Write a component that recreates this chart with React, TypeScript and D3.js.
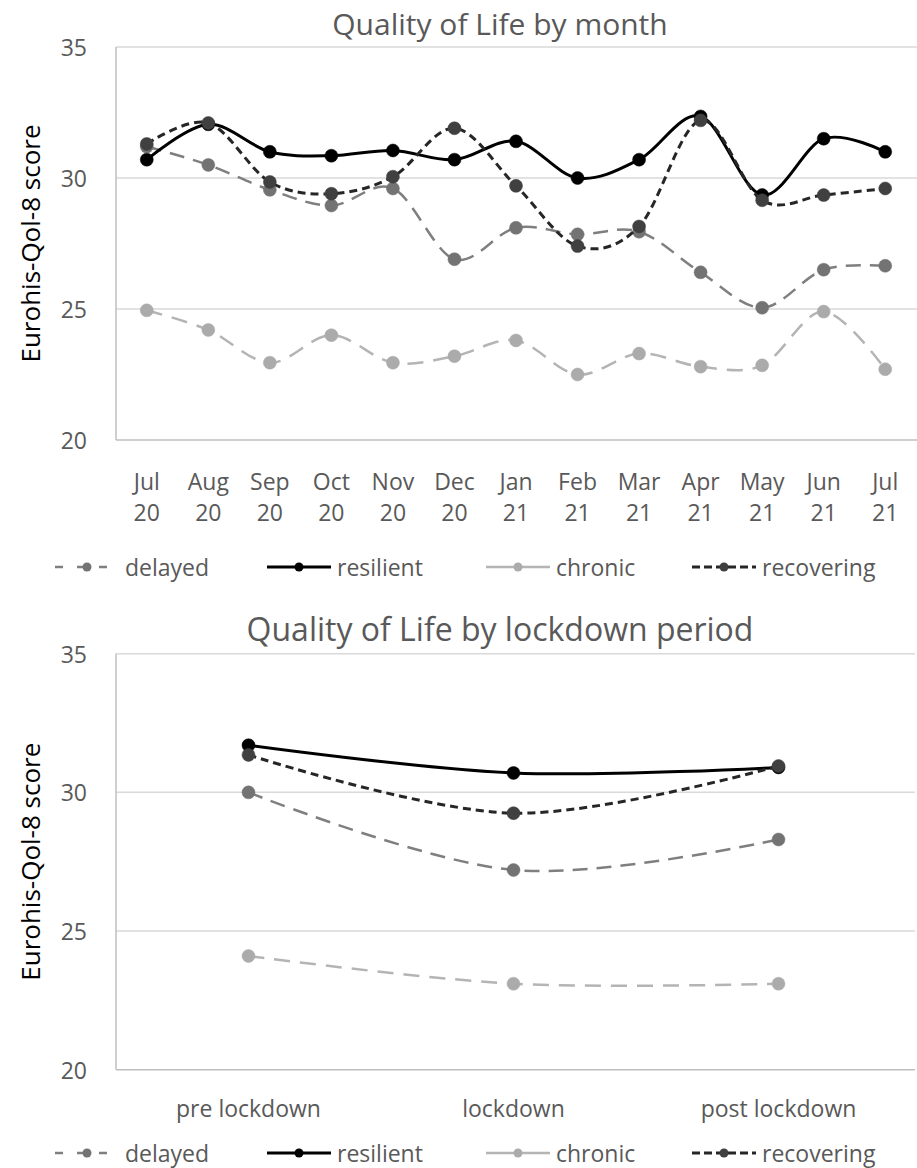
import React from "react";
import * as d3 from "d3";

// ---------- data ----------
const monthLabels = ["Jul 20", "Aug 20", "Sep 20", "Oct 20", "Nov 20", "Dec 20", "Jan 21", "Feb 21", "Mar 21", "Apr 21", "May 21", "Jun 21", "Jul 21"];
const delayedMonthly = [31.2, 30.5, 29.55, 28.95, 29.6, 26.9, 28.1, 27.85, 27.95, 26.4, 25.05, 26.5, 26.65];
const resilientMonthly = [30.7, 32.05, 31.0, 30.85, 31.05, 30.7, 31.4, 30.0, 30.7, 32.35, 29.35, 31.5, 31.0];
const chronicMonthly = [24.95, 24.2, 22.95, 24.0, 22.95, 23.2, 23.8, 22.5, 23.3, 22.8, 22.85, 24.9, 22.7];
const recoveringMonthly = [31.3, 32.1, 29.85, 29.4, 30.05, 31.9, 29.7, 27.4, 28.15, 32.2, 29.15, 29.35, 29.6];

const periodLabels = ["pre lockdown", "lockdown", "post lockdown"];
const delayedPeriod = [30.0, 27.2, 28.3];
const resilientPeriod = [31.7, 30.7, 30.9];
const chronicPeriod = [24.1, 23.1, 23.1];
const recoveringPeriod = [31.35, 29.25, 30.95];

const yTicks = [20, 25, 30, 35];
const seriesNames = ["delayed", "resilient", "chronic", "recovering"];

// ---------- styles ----------
const FONT = "'Open Sans', sans-serif";
const TEXT = "#595959";
const styles: Record<string, { stroke: string; marker: string; width: number; dash: string | null }> = {
  delayed: { stroke: "#7f7f7f", marker: "#737373", width: 2.5, dash: "15 9" },
  resilient: { stroke: "#000000", marker: "#000000", width: 3, dash: null },
  chronic: { stroke: "#b4b4b4", marker: "#ababab", width: 2.5, dash: "16 10" },
  recovering: { stroke: "#262626", marker: "#404040", width: 3, dash: "8 5" },
};

type ChartProps = {
  title: string;
  titleY: number;
  titleSize: number;
  cats: string[];
  series: number[][];
  x0: number;
  x1: number;
  yTop: number;
  yBottom: number;
  tickFirstY: number;
  legendY: number;
  twoLine: boolean;
};

function Chart(p: ChartProps) {
  const x = d3.scaleBand<string>().domain(p.cats).range([p.x0, p.x1]);
  const y = d3.scaleLinear().domain([20, 35]).range([p.yBottom, p.yTop]);
  const cx = (c: string) => (x(c) as number) + x.bandwidth() / 2;
  const line = d3
    .line<number>()
    .x((_, i) => cx(p.cats[i]))
    .y((v) => y(v))
    .curve(d3.curveCatmullRom.alpha(0));

  const legendStarts = [55, 267, 486, 692];
  const symW = 64;

  return (
    <g>
      <text x={500} y={p.titleY} textAnchor="middle" fontFamily={FONT} fontSize={p.titleSize} fill={TEXT}>
        {p.title}
      </text>
      {yTicks.map((t) => (
        <g key={t}>
          {t !== 20 && (
            <line x1={p.x0} x2={p.x1 + 4} y1={y(t)} y2={y(t)} stroke="#d9d9d9" strokeWidth={1.5} />
          )}
          <text x={87} y={y(t)} textAnchor="end" dominantBaseline="central" fontFamily={FONT} fontSize={23} fill={TEXT}>
            {t}
          </text>
        </g>
      ))}
      <line x1={p.x0} x2={p.x0} y1={p.yTop} y2={p.yBottom} stroke="#bfbfbf" strokeWidth={1.5} />
      <line x1={p.x0} x2={p.x1 + 4} y1={p.yBottom} y2={p.yBottom} stroke="#bfbfbf" strokeWidth={1.5} />
      <text
        transform={`translate(30,${(p.yTop + p.yBottom) / 2}) rotate(-90)`}
        textAnchor="middle"
        dominantBaseline="central"
        fontFamily={FONT}
        fontSize={26}
        fill="#000"
      >
        Eurohis-Qol-8 score
      </text>
      {p.cats.map((c) => {
        const parts = p.twoLine ? c.split(" ") : [c];
        return (
          <g key={c}>
            {parts.map((s, k) => (
              <text
                key={k}
                x={cx(c)}
                y={p.tickFirstY + k * 31}
                textAnchor="middle"
                dominantBaseline="central"
                fontFamily={FONT}
                fontSize={23}
                fill={TEXT}
              >
                {s}
              </text>
            ))}
          </g>
        );
      })}
      {p.series.map((vals, si) => {
        const st = styles[seriesNames[si]];
        return (
          <g key={si}>
            <path
              d={line(vals) || ""}
              fill="none"
              stroke={st.stroke}
              strokeWidth={st.width}
              strokeDasharray={st.dash || undefined}
              strokeLinejoin="round"
            />
            {vals.map((v, i) => (
              <circle key={i} cx={cx(p.cats[i])} cy={y(v)} r={6.5} fill={st.marker} stroke={st.marker} strokeWidth={0.5} />
            ))}
          </g>
        );
      })}
      {seriesNames.map((n, i) => {
        const st = styles[n];
        const sx = legendStarts[i];
        const dash = n === "delayed" ? "8 14" : n === "recovering" ? "8 4" : null;
        return (
          <g key={n}>
            <line
              x1={sx}
              x2={sx + symW}
              y1={p.legendY}
              y2={p.legendY}
              stroke={st.stroke}
              strokeWidth={st.width}
              strokeDasharray={dash || undefined}
            />
            <circle cx={sx + symW / 2} cy={p.legendY} r={4.5} fill={st.marker} />
            <text x={sx + symW + 6} y={p.legendY} dominantBaseline="central" fontFamily={FONT} fontSize={23} fill={TEXT}>
              {n}
            </text>
          </g>
        );
      })}
    </g>
  );
}

export default function App() {
  return (
    <div style={{ position: "absolute", left: 0, top: 0 }}>
      <svg width={917} height={1168} style={{ display: "block", background: "#fff" }}>
        <Chart
          title="Quality of Life by month"
          titleY={35}
          titleSize={30}
          cats={monthLabels}
          series={[delayedMonthly, resilientMonthly, chronicMonthly, recoveringMonthly]}
          x0={116}
          x1={916}
          yTop={47}
          yBottom={440}
          tickFirstY={481}
          legendY={567}
          twoLine={true}
        />
        <Chart
          title="Quality of Life by lockdown period"
          titleY={641}
          titleSize={32}
          cats={periodLabels}
          series={[delayedPeriod, resilientPeriod, chronicPeriod, recoveringPeriod]}
          x0={116}
          x1={911}
          yTop={653.7}
          yBottom={1069.7}
          tickFirstY={1108}
          legendY={1153}
          twoLine={false}
        />
      </svg>
    </div>
  );
}
